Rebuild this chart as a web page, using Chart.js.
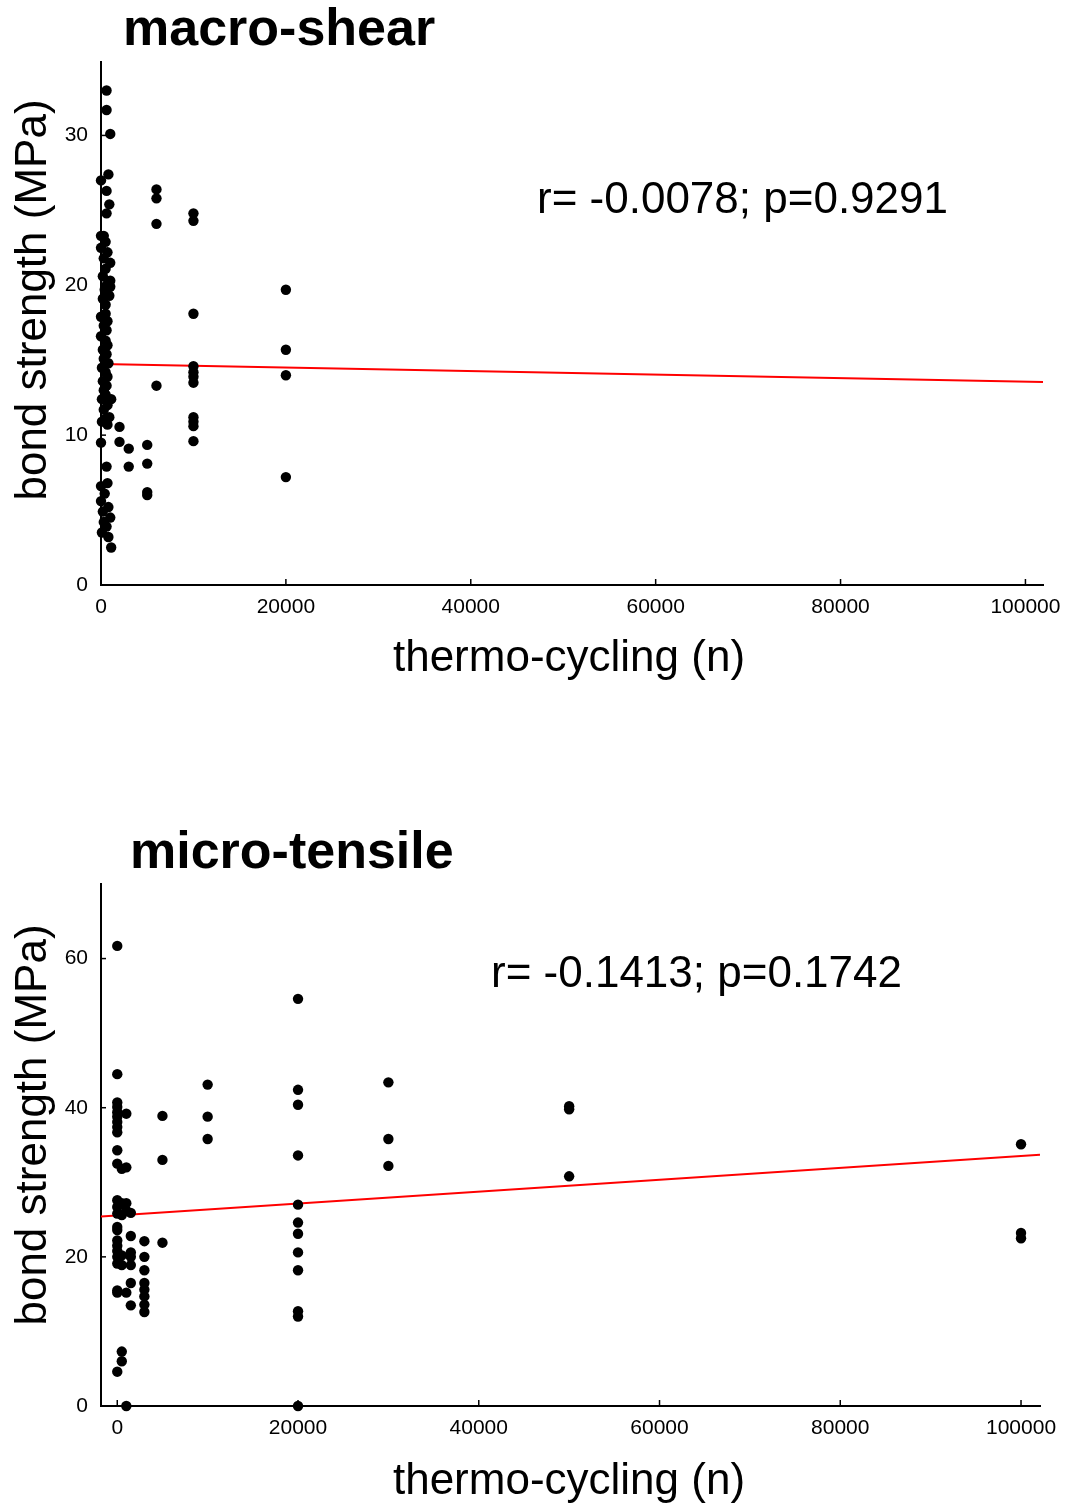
<!DOCTYPE html>
<html><head><meta charset="utf-8">
<script src="https://cdn.jsdelivr.net/npm/chart.js@4.4.1/dist/chart.umd.min.js"></script>
<style>
html,body{margin:0;padding:0;background:#fff;}
.wrap{position:absolute;left:0;width:1078px;height:752px;}
canvas{display:block;}
</style></head><body>
<div class="wrap" style="top:0"><canvas id="c1" width="1078" height="752"></canvas></div>
<div class="wrap" style="top:752px"><canvas id="c2" width="1078" height="752"></canvas></div>
<script>
// ---------- macro-shear ----------
const shearCycles = [
  600,600,1000,800,0,600,900,600,300,0,
  500,0,700,300,1000,500,1000,200,1000,600,400,900,200,500,
  500,0,700,300,600,0,500,700,200,600,300,800,100,500,700,200,600,300,500,100,1100,700,300,900,500,100,700,
  2000,0,2000,3000,3000,600,700,400,0,0,800,200,1000,300,600,100,800,1100,
  6000,6000,6000,6000,
  10000,10000,10000,10000,10000,10000,10000,10000,10000,10000,10000,
  20000,20000,20000,20000,
  5000,5000,5000,5000
];
const shearStrength = [
  33.0,31.7,30.1,27.4,27.0,26.3,25.4,24.8,23.3,23.3,
  22.9,22.5,22.2,21.8,21.5,21.1,20.3,20.6,19.9,20.0,19.7,19.3,19.1,18.7,
  18.1,17.9,17.6,17.3,17.0,16.6,16.3,16.0,15.7,15.4,15.1,14.8,14.5,14.2,13.9,13.6,13.3,13.0,12.7,12.4,12.4,12.0,11.7,11.2,11.1,10.9,10.7,
  10.55,9.5,9.55,9.1,7.9,7.9,6.8,6.1,6.6,5.6,5.2,4.9,4.5,4.2,3.9,3.5,3.2,2.5,
  26.4,25.8,24.1,13.3,
  24.8,24.3,18.1,14.6,14.2,13.9,13.5,11.2,10.9,10.6,9.6,
  19.7,15.7,14.0,7.2,
  9.35,8.1,6.2,6.0
];
const shearFitCycles = [0, 101900];
const shearFitStrength = [14.75, 13.55];
const shearYTicks = [0, 10, 20, 30];

// ---------- micro-tensile ----------
const tensileCycles = [
  0,0,0,0,0,0,0,0,0,0,0,0,0,0,0,0,0,0,0,0,0,0,0,0,
  500,500,500,500,500,500,500,
  1000,1000,1000,1000,1000,1000,
  1500,1500,1500,1500,1500,1500,1500,
  3000,3000,3000,3000,3000,3000,3000,3000,
  5000,5000,5000,
  10000,10000,10000,
  20000,20000,20000,20000,20000,20000,20000,20000,20000,20000,20000,20000,
  30000,30000,30000,
  50000,50000,50000,
  100000,100000,100000
];
const tensileStrength = [
  61.7,44.5,40.7,40.1,39.4,38.8,38.1,37.4,36.7,34.3,32.5,27.6,26.7,25.8,24.0,23.6,22.2,21.5,20.8,20.0,19.1,15.5,15.2,4.6,
  31.8,27.2,25.6,20.2,18.9,7.3,6.0,
  39.2,32.0,27.2,26.2,15.2,0,
  25.9,22.8,20.6,20.0,18.9,16.5,13.5,
  22.1,20.0,18.2,16.5,15.6,14.7,13.6,12.6,
  38.9,33.0,21.9,
  43.1,38.8,35.8,
  54.6,42.4,40.4,33.6,27.0,24.6,23.1,20.6,18.2,12.7,12.0,0,
  43.4,35.8,32.2,
  40.2,39.8,30.8,
  35.1,23.2,22.5
];
const tensileFitCycles = [-1800, 102100];
const tensileFitStrength = [25.4, 33.7];
const tensileYTicks = [0, 20, 40, 60];

const xTickValues = [0, 20000, 40000, 60000, 80000, 100000];

const FONT = '"Liberation Sans", Arial, Helvetica, sans-serif';

const decor = {
  id: 'decor',
  afterDraw(chart, args, o) {
    const ctx = chart.ctx, xs = chart.scales.x, ys = chart.scales.y;
    ctx.save();
    ctx.strokeStyle = '#000';
    ctx.lineWidth = 1.5;
    o.xTicks.forEach(v => {
      const px = xs.getPixelForValue(v);
      ctx.beginPath(); ctx.moveTo(px, ys.bottom); ctx.lineTo(px, ys.bottom - 6); ctx.stroke();
    });
    o.yTicks.forEach(v => {
      const py = ys.getPixelForValue(v);
      ctx.beginPath(); ctx.moveTo(xs.left, py); ctx.lineTo(xs.left + 5, py); ctx.stroke();
    });
    ctx.fillStyle = '#000';
    ctx.textBaseline = 'alphabetic';
    ctx.textAlign = 'left';
    ctx.font = 'bold 52px ' + FONT;
    ctx.fillText(o.title, o.titleX, o.titleY);
    ctx.font = '44px ' + FONT;
    ctx.fillText(o.stat, o.statX, o.statY);
    ctx.textAlign = 'center';
    ctx.fillText('thermo-cycling (n)', 569, o.xTitleY);
    ctx.save();
    ctx.translate(46, o.yTitleY);
    ctx.rotate(-Math.PI / 2);
    ctx.fillText('bond strength (MPa)', 0, 0);
    ctx.restore();
    ctx.restore();
  }
};

function makeChart(id, cfg) {
  const pts = cfg.xs.map((x, i) => ({x: x, y: cfg.ys[i]}));
  const fit = cfg.fx.map((x, i) => ({x: x, y: cfg.fy[i]}));
  return new Chart(document.getElementById(id), {
    type: 'scatter',
    data: {
      datasets: [
        {data: pts, backgroundColor: '#000', borderWidth: 0, pointRadius: 5.2, pointHoverRadius: 5.2, clip: false, order: 0},
        {type: 'line', data: fit, borderColor: '#ff0000', borderWidth: 2, pointRadius: 0, fill: false, order: 1}
      ]
    },
    options: {
      responsive: false,
      animation: false,
      devicePixelRatio: 1,
      layout: {padding: {left: 0, top: cfg.top, right: cfg.right, bottom: 0}},
      plugins: {
        legend: {display: false},
        tooltip: {enabled: false},
        decor: cfg.decor
      },
      scales: {
        x: {
          type: 'linear', min: cfg.xmin, max: cfg.xmax,
          grid: {display: false, drawTicks: false},
          border: {display: true, color: '#000', width: 2},
          afterBuildTicks: s => { s.ticks = xTickValues.map(v => ({value: v})); },
          afterFit: s => { s.height = cfg.xh; },
          ticks: {color: '#000', padding: 10, maxRotation: 0, autoSkip: false,
                  font: {family: FONT, size: 21}, callback: v => String(v)}
        },
        y: {
          type: 'linear', min: 0, max: cfg.ymax,
          grid: {display: false, drawTicks: false},
          border: {display: true, color: '#000', width: 2},
          afterBuildTicks: s => { s.ticks = cfg.yTicks.map(v => ({value: v})); },
          afterFit: s => { s.width = 101; },
          ticks: {color: '#000', padding: 13, autoSkip: false,
                  font: {family: FONT, size: 21}, callback: v => String(v)}
        }
      }
    },
    plugins: [decor]
  });
}

makeChart('c1', {
  xs: shearCycles, ys: shearStrength, fx: shearFitCycles, fy: shearFitStrength,
  xmin: 0, xmax: 101900, ymax: 34.9, yTicks: shearYTicks,
  top: 62, right: 35, xh: 752 - 585,
  decor: {xTicks: xTickValues, yTicks: shearYTicks, title: 'macro-shear', titleX: 123, titleY: 45,
          stat: 'r= -0.0078; p=0.9291', statX: 537, statY: 213, xTitleY: 671, yTitleY: 300}
});

makeChart('c2', {
  xs: tensileCycles, ys: tensileStrength, fx: tensileFitCycles, fy: tensileFitStrength,
  xmin: -1800, xmax: 102100, ymax: 70, yTicks: tensileYTicks,
  top: 132, right: 38, xh: 752 - 654,
  decor: {xTicks: xTickValues, yTicks: tensileYTicks, title: 'micro-tensile', titleX: 130, titleY: 116,
          stat: 'r= -0.1413; p=0.1742', statX: 491, statY: 235, xTitleY: 742, yTitleY: 373}
});
</script>
</body></html>
